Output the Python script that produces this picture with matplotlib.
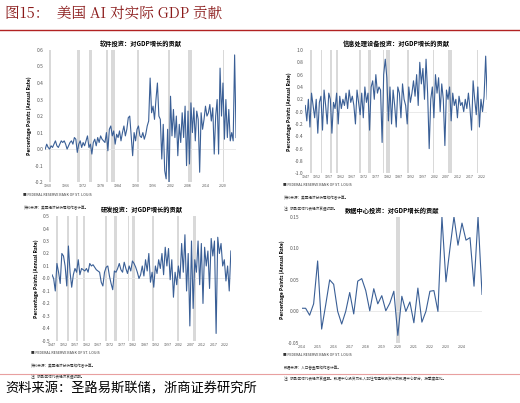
import numpy as np
import matplotlib
matplotlib.use("Agg")
import matplotlib.pyplot as plt
from matplotlib.lines import Line2D

plt.rcParams['font.family'] = ['Noto Sans CJK SC', 'DejaVu Sans']

software = [0.0,0.03,0.01,0.0,0.02,0.01,0.03,0.05,0.02,0.01,
            0.03,0.05,0.04,0.05,0.03,0.0,0.02,0.04,0.05,0.03,
            0.07,0.06,-0.02,0.03,0.05,0.01,0.04,0.02,0.05,0.08,
            0.01,0.03,-0.03,0.04,0.06,0.02,0.07,0.04,0.08,0.06,
            0.05,0.04,0.10,-0.01,0.12,0.14,0.08,0.11,0.03,0.09,
            0.07,0.11,0.05,0.10,0.14,0.08,0.12,0.19,0.20,0.08,
            -0.04,0.10,0.05,0.12,0.14,0.08,0.07,0.10,0.06,0.09,
            0.14,0.17,0.43,0.22,0.26,0.18,0.30,0.40,0.20,0.18,
            -0.06,0.15,-0.13,-0.18,0.12,-0.20,0.32,0.08,0.24,0.07,
            0.20,-0.04,0.15,0.04,0.22,0.07,0.26,-0.10,0.23,-0.09,
            0.28,0.10,0.25,0.05,0.23,0.18,-0.14,0.22,0.12,0.18,
            0.26,0.20,0.22,0.27,0.17,0.25,-0.03,0.20,0.30,-0.03,
            0.49,0.20,0.40,0.06,0.30,0.07,0.24,0.05,0.10,0.05,
            0.57,0.07]

ipe = [0.1,-0.15,0.2,-0.25,0.3,0.1,-0.1,0.2,-0.35,0.15,
       0.25,-0.3,0.35,0.1,-0.2,0.3,0.2,-0.35,0.15,0.05,
       0.3,-0.2,0.25,0.05,0.2,0.1,0.3,0.05,0.35,0.15,
       0.25,0.1,-0.2,0.35,0.15,-0.05,0.3,-0.1,0.4,0.15,
       0.3,-0.3,0.4,0.5,0.2,0.6,0.3,0.4,0.35,-0.5,
       0.6,0.85,0.55,-0.15,0.4,-0.2,0.35,0.1,-0.25,0.4,
       0.3,-0.1,0.45,0.2,0.1,-0.2,0.4,0.15,0.3,0.5,
       0.25,0.6,0.1,0.8,0.45,0.7,0.2,0.85,0.3,-0.6,
       0.2,0.4,-0.1,0.6,0.3,0.55,0.0,0.45,0.2,-0.55,
       0.35,0.2,0.4,-0.15,0.3,0.1,0.2,-0.1,0.25,0.1,
       0.15,0.0,0.2,0.05,0.3,0.05,-0.3,0.5,0.2,-0.05,
       0.4,-0.25,0.2,0.0,0.25,0.9,0.2]

rnd = [0.03,0.0,-0.1,0.12,0.05,-0.04,0.2,0.18,0.1,-0.06,0.26,0.05,-0.07,0.03,0.08,0.05,0.15,0.03,0.08,
       0.07,0.06,0.08,0.05,0.12,0.1,0.11,0.09,0.07,0.06,0.05,-0.03,-0.06,0.05,0.09,0.1,0.02,-0.04,-0.09,0.06,
       0.05,0.08,0.12,0.07,0.05,0.13,0.08,0.04,0.1,0.06,0.14,0.12,0.09,0.05,0.0,0.03,0.1,0.02,0.15,0.06,
       0.2,-0.03,0.05,-0.07,0.1,0.04,0.15,0.08,0.2,0.03,0.25,0.1,0.24,-0.01,0.15,-0.15,0.05,-0.05,0.1,0.0,
       0.28,0.05,0.35,-0.1,0.2,-0.38,0.3,-0.24,0.15,0.05,0.3,-0.05,0.28,-0.2,0.25,0.1,0.22,-0.08,0.32,0.18,
       0.3,-0.44,0.33,0.2,0.28,0.1,0.15,-0.02,0.1,-0.1,0.22]

datacenter = [0.005,0.005,-0.006,0.012,0.08,-0.028,0.01,0.05,0.043,0.0,-0.02,0.0,0.03,-0.004,0.048,0.052,
              0.033,0.001,0.036,0.012,0.025,0.001,0.013,0.032,-0.038,0.024,0.0,0.015,-0.018,0.037,-0.017,0.0,
              0.032,0.033,0.0,0.15,0.047,0.1,0.15,0.105,0.14,0.113,0.117,0.04,0.15,0.027]

recessions = [(1948.9,1949.8),(1953.5,1954.3),(1957.6,1958.3),(1960.3,1961.1),(1969.9,1970.9),
              (1973.9,1975.2),(1980.0,1980.5),(1981.5,1982.9),(1990.5,1991.2),(2001.2,2001.9),
              (2007.9,2009.5),(2020.1,2020.4)]

titles = ['软件投资：对GDP增长的贡献', '信息处理设备投资：对GDP增长的贡献',
          '研发投资：对GDP增长的贡献', '数据中心投资：对GDP增长的贡献']

color = '#3a5f96'
fig = plt.figure(figsize=(5.2, 4.03), dpi=100)
fig.text(0.01, 0.965, '图15：  美国 AI 对实际 GDP 贡献', fontsize=10.5, color='#8b1a1a', family=['Noto Serif CJK SC','Noto Sans CJK SC','DejaVu Sans'], va='center')
fig.add_artist(Line2D([0.0, 1.0], [0.925, 0.925], color='#b22222', lw=1.0))
fig.add_artist(Line2D([0.0, 1.0], [0.072, 0.072], color='#e8a0a0', lw=0.8))
fig.text(0.01, 0.035, '资料来源：圣路易斯联储，浙商证券研究所', fontsize=9.5, va='center')

def panel(rect, xs, ys, title, ylim, yticks, yfmt, xticks, recs):
    ax = fig.add_axes(rect)
    for a, b in recs:
        if xs[0] <= b and a <= xs[-1]:
            ax.axvspan(a, b, color='#d9d9d9', lw=0)
    ax.axhline(0, color='#e6e6e6', lw=0.6)
    ax.plot(xs, ys, color=color, lw=0.8)
    ax.set_xlim(xs[0], xs[-1])
    ax.set_ylim(*ylim)
    ax.set_yticks(yticks)
    ax.set_yticklabels([yfmt.format(v) for v in yticks], fontsize=3.5, color='#555')
    ax.set_xticks(xticks)
    ax.set_xticklabels([str(int(t)) for t in xticks], fontsize=2.6, color='#555')
    ax.tick_params(length=0, pad=1.5)
    for s in ax.spines.values():
        s.set_visible(False)
    ax.set_title(title, fontsize=4.5, pad=3, fontweight='bold')
    ax.set_ylabel('Percentage Points (Annual Rate)', fontsize=3.5, fontweight='bold', labelpad=2)
    return ax

x1 = np.linspace(1959, 2024.5, len(software))
panel([0.087, 0.548, 0.367, 0.328], x1, software, titles[0], (-0.2, 0.6),
      np.round(np.arange(-0.2, 0.61, 0.1), 1), '{:.1f}', np.arange(1960, 2021, 6), recessions)
x2 = np.linspace(1947, 2024.5, len(ipe))
panel([0.587, 0.57, 0.35, 0.306], x2, ipe, titles[1], (-1.0, 1.0),
      np.round(np.arange(-1.0, 1.01, 0.2), 1), '{:.1f}', np.arange(1947, 2023, 5), recessions)
x3 = np.linspace(1947, 2024.5, len(rnd))
panel([0.1, 0.154, 0.344, 0.31], x3, rnd, titles[2], (-0.5, 0.5),
      np.round(np.arange(-0.5, 0.51, 0.1), 1), '{:.1f}', np.arange(1947, 2023, 5), recessions)
x4 = 2014 + 0.25 * np.arange(len(datacenter))
panel([0.58, 0.149, 0.347, 0.313], x4, datacenter, titles[3], (-0.05, 0.15),
      [-0.05, 0.0, 0.05, 0.10, 0.15], '{:.2f}', np.arange(2014, 2025, 1), [(2019.9, 2020.15)])

notes = [
    (0.045, 0.522, ['■ FEDERAL RESERVE BANK OF ST. LOUIS', '资料来源：美国经济分析局和作者计算。']),
    (0.545, 0.545, ['■ FEDERAL RESERVE BANK OF ST. LOUIS', '资料来源：美国经济分析局和作者计算。', '注：阴影区域代表经济衰退时期。']),
    (0.06, 0.128, ['■ FEDERAL RESERVE BANK OF ST. LOUIS', '资料来源：美国经济分析局和作者计算。', '注：阴影区域代表经济衰退时期。']),
    (0.545, 0.123, ['■ FEDERAL RESERVE BANK OF ST. LOUIS', '数据来源：人口普查局和作者计算。',
                    '注：阴影区域代表经济衰退期。数据中心投资为私人非住宅建筑投资中的数据中心部分，按季度年化。']),
]
for x, y, lines in notes:
    for i, t in enumerate(lines):
        fig.text(x, y - i * 0.026 - (0.006 if i else 0), t, fontsize=2.6, color='#333', va='top')

fig.savefig('out.png', dpi=100)
